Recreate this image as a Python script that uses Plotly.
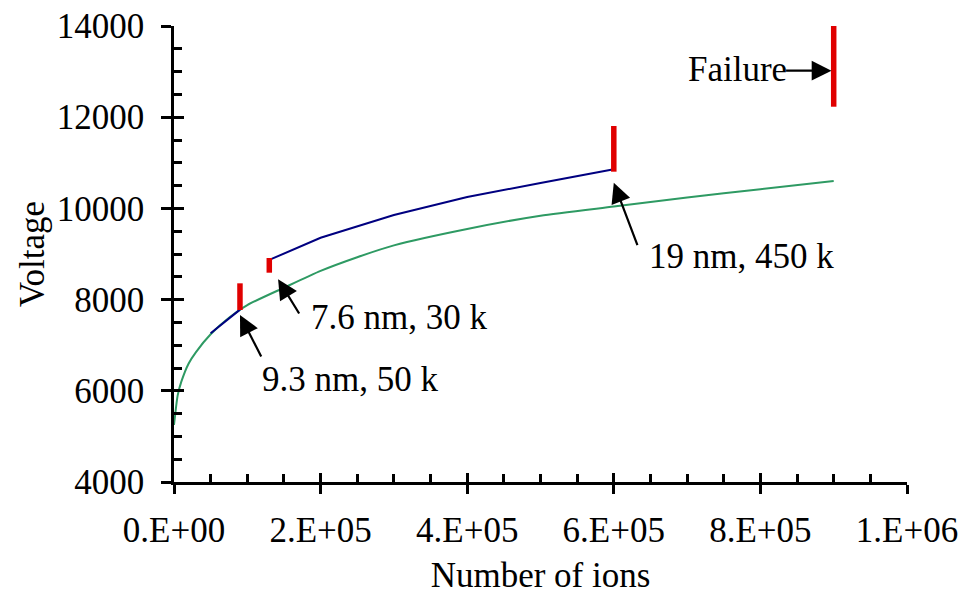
import plotly.graph_objects as go

# Green curve (smooth fit)
green_x = [0, 5e3, 1e4, 2e4, 3e4, 5e4, 7.5e4, 1e5, 1.5e5, 2e5, 2.5e5, 3e5,
           4e5, 5e5, 6e5, 7e5, 8e5, 9e5]
green_y = [5250, 5900, 6200, 6600, 6850, 7240, 7600, 7880, 8260, 8630, 8930,
           9190, 9550, 9840, 10040, 10240, 10420, 10600]

# Blue measured runs (two segments)
blue_x = [5e4, 9e4, None, 1.3e5, 2e5, 3e5, 4e5, 5e5, 6e5]
blue_y = [7260, 7780, None, 8870, 9357, 9855, 10250, 10557, 10860]

# Red markers: position, lower and upper voltage
bar_x = [9e4, 1.3e5, 6e5, 9e5]
bar_lo = [7772, 8590, 10805, 12230]
bar_hi = [8357, 8912, 11807, 14000]

# Callouts: text, arrow head (x, y), arrow tail (x, y), text anchor (x, y)
notes = [
    ("9.3 nm, 50 k", (9e4, 7662), (1.2e5, 6719), (1.176e5, 6250)),
    ("7.6 nm, 30 k", (1.42e5, 8445), (1.72e5, 7662), (1.84e5, 7600)),
    ("19 nm, 450 k", (6e5, 10560), (6.33e5, 9160), (6.45e5, 8950)),
]
fail_text = "Failure"
fail_head = (8.97e5, 13020)
fail_tail = (8.33e5, 13020)
fail_pos = (6.99e5, 13040)

x_ticks = [0, 2e5, 4e5, 6e5, 8e5, 1e6]
x_ticktext = ["0.E+00", "2.E+05", "4.E+05", "6.E+05", "8.E+05", "1.E+06"]
y_ticks = [4000, 6000, 8000, 10000, 12000, 14000]
y_ticktext = ["4000", "6000", "8000", "10000", "12000", "14000"]

FONT = "Liberation Serif, Times New Roman, serif"
FS = 35

fig = go.Figure()
fig.add_trace(go.Scatter(x=green_x, y=green_y, mode="lines",
                         line=dict(color="#2e9a63", width=2, shape="spline",
                                   smoothing=0.6),
                         hoverinfo="skip", showlegend=False))
fig.add_trace(go.Scatter(x=blue_x, y=blue_y, mode="lines", connectgaps=False,
                         line=dict(color="#000080", width=2),
                         hoverinfo="skip", showlegend=False))

bx, by = [], []
for x, lo, hi in zip(bar_x, bar_lo, bar_hi):
    bx += [x, x, None]
    by += [lo, hi, None]
fig.add_trace(go.Scatter(x=bx, y=by, mode="lines", xaxis="x2", yaxis="y2",
                         line=dict(color="#e00000", width=5.5),
                         hoverinfo="skip", showlegend=False, cliponaxis=False))

for text, head, tail, pos in notes:
    fig.add_annotation(x=head[0], y=head[1], ax=tail[0], ay=tail[1],
                       axref="x", ayref="y", xref="x", yref="y", text="",
                       showarrow=True, arrowhead=2, arrowsize=1.8,
                       arrowwidth=2.2, arrowcolor="black", standoff=0)
    fig.add_annotation(x=pos[0], y=pos[1], xref="x", yref="y", text=text,
                       showarrow=False, xanchor="left", yanchor="middle",
                       font=dict(family=FONT, size=FS, color="black"))

fig.add_annotation(x=fail_pos[0], y=fail_pos[1], xref="x", yref="y",
                   text=fail_text, showarrow=False, xanchor="left",
                   yanchor="middle", font=dict(family=FONT, size=FS, color="black"))
fig.add_annotation(x=fail_head[0], y=fail_head[1], ax=fail_tail[0],
                   ay=fail_tail[1], axref="x", ayref="y", xref="x", yref="y",
                   text="", showarrow=True, arrowhead=2, arrowsize=1.8,
                   arrowwidth=2.2, arrowcolor="black", standoff=0)

axis_common = dict(showgrid=False, zeroline=False, linecolor="black",
                   tickcolor="black", tickwidth=2.5)

fig.update_layout(
    width=964, height=595,
    margin=dict(l=174, r=57, t=26, b=113, autoexpand=False),
    paper_bgcolor="white", plot_bgcolor="white",
    font=dict(family=FONT, size=FS, color="black"),
    xaxis=dict(range=[0, 1e6], tickvals=x_ticks, ticktext=x_ticktext,
               ticks="outside", ticklen=9, showline=True, linewidth=2.5,
               ticklabelstandoff=6,
               title=dict(text="Number of ions", standoff=22,
                          font=dict(family=FONT, size=FS)),
               **axis_common),
    yaxis=dict(range=[4000, 14000], tickvals=y_ticks, ticktext=y_ticktext,
               ticks="outside", ticklen=10, showline=True, linewidth=2.5,
               ticklabelstandoff=10,
               title=dict(text="Voltage", standoff=2,
                          font=dict(family=FONT, size=FS)),
               **axis_common),
    xaxis2=dict(range=[0, 1e6], overlaying="x", anchor="y2", side="bottom",
                tickvals=x_ticks, ticks="inside", ticklen=9,
                showticklabels=False, showline=False,
                minor=dict(ticks="inside", ticklen=8, dtick=5e4, tick0=0,
                           tickcolor="black", tickwidth=2.5),
                **axis_common),
    yaxis2=dict(range=[4000, 14000], overlaying="y", anchor="x2", side="left",
                tickvals=y_ticks, ticks="inside", ticklen=10,
                showticklabels=False, showline=False,
                minor=dict(ticks="inside", ticklen=8, dtick=500, tick0=0,
                           tickcolor="black", tickwidth=2.5),
                **axis_common),
)

fig.write_html("out.html")
